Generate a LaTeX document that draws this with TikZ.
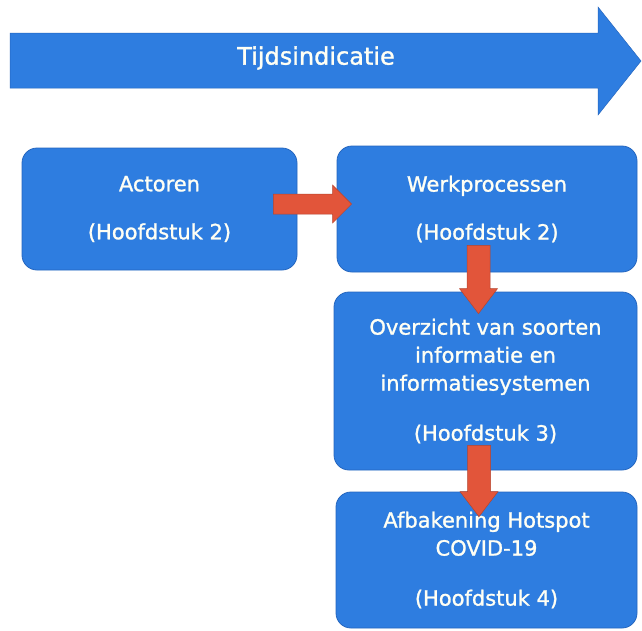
\documentclass[tikz,border=0pt]{standalone}
\usepackage{fontspec}
\setmainfont{DejaVu Sans}
\newfontfamily\boxfont[AutoFakeBold=1.2]{DejaVu Sans}
\usetikzlibrary{calc}
\definecolor{boxblue}{HTML}{2E7DE0}
\definecolor{boxedge}{HTML}{2566BF}
\definecolor{arrred}{HTML}{E2553A}
\definecolor{arredge}{HTML}{B5442E}
\definecolor{boxtext}{HTML}{FFFFF4}
\newcommand{\harrowdraw}[2]{%
  \filldraw[redarr] ($(#1)+(0,-10)$) -- ($(#2)+(-19,-10)$) -- ($(#2)+(-19,-19)$) -- (#2)
    -- ($(#2)+(-19,19)$) -- ($(#2)+(-19,10)$) -- ($(#1)+(0,10)$) -- cycle;}
\newcommand{\varrowdraw}[2]{%
  \filldraw[redarr] ($(#1)+(-11.5,0)$) -- ($(#2)+(-11.5,-25)$) -- ($(#2)+(-19,-25)$) -- (#2)
    -- ($(#2)+(19,-25)$) -- ($(#2)+(11.5,-25)$) -- ($(#1)+(11.5,0)$) -- cycle;}
\begin{document}
\begin{tikzpicture}[x=1pt,y=-1pt,
  box/.style={draw=boxedge, line width=0.8pt, fill=boxblue, rounded corners=15pt,
    inner sep=0pt, align=center, text=boxtext, font=\boxfont\bfseries\fontsize{21}{28}\selectfont},
  redarr/.style={fill=arrred, draw=arredge, line width=0.5pt},
  bigarr/.style={fill=boxblue, draw=boxedge, line width=0.5pt}]
\useasboundingbox[fill=white] (0,0) rectangle (642,630);

% big time arrow
\filldraw[bigarr] (10,33) -- (598,33) -- (598,7) -- (641,61) -- (598,115) -- (598,88) -- (10,88) -- cycle;
\node[text=boxtext, font=\boxfont\bfseries\fontsize{24}{28}\selectfont] (title) at (316,58) {Tijdsindicatie};

% boxes
\node[box, minimum width=275pt, minimum height=122pt] (act) at (159.5,209)
  {Actoren\\[20pt](Hoofdstuk 2)};
\node[box, minimum width=300pt, minimum height=126pt] (werk) at (487,209)
  {Werkprocessen\\[20pt](Hoofdstuk 2)};
\node[box, minimum width=303pt, minimum height=178pt] (ov) at (485.5,381)
  {Overzicht van soorten\\informatie en\\informatiesystemen\\[22pt](Hoofdstuk 3)};
\node[box, minimum width=301pt, minimum height=136pt] (af) at (486.5,560)
  {Afbakening Hotspot\\COVID-19\\[22pt](Hoofdstuk 4)};

% connector end points
\coordinate (h1s) at ($(act.east)+(-24,-5)$);
\coordinate (h1t) at ($(werk.west)+(15,-5)$);
\coordinate (v1s) at ($(werk.south)+(-8.5,-27)$);
\coordinate (v1t) at ($(ov.north)+(-7,22)$);
\coordinate (v2s) at ($(ov.south)+(-6.5,-25)$);
\coordinate (v2t) at ($(af.north)+(-7.5,25)$);

\harrowdraw{h1s}{h1t}
\varrowdraw{v1s}{v1t}
\varrowdraw{v2s}{v2t}
\end{tikzpicture}
\end{document}
